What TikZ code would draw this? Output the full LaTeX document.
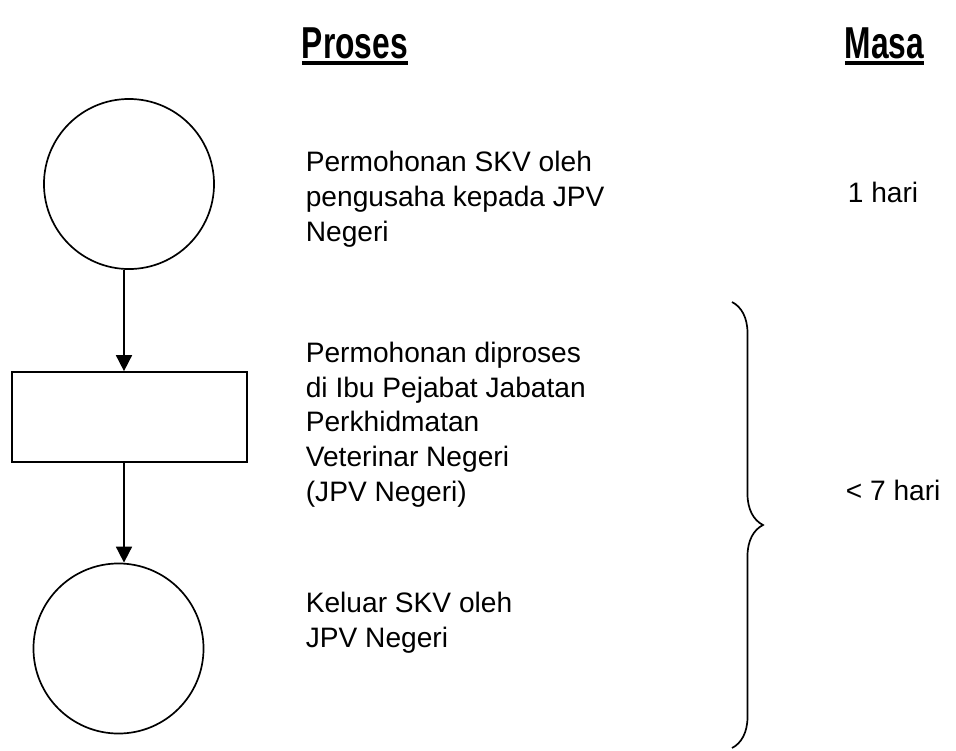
\documentclass[tikz,border=0pt]{standalone}
\usepackage{fontspec}
\setmainfont{Liberation Sans}
\usepackage{graphicx}
\usepackage{tikz}
\usetikzlibrary{shapes,arrows.meta,decorations.pathreplacing}
\tikzstyle{block} = [draw, rectangle, line width=1.2pt, minimum width=5.875cm, minimum height=2.25cm]
\tikzstyle{state} = [draw, circle, line width=1.2pt, minimum size=4.25cm, inner sep=0pt]
\tikzstyle{invis} = [draw=none, inner sep=0pt, anchor=base west, align=left, font=\fontsize{20}{24.6}\selectfont]
\tikzstyle{head} = [draw=none, inner sep=0pt, anchor=base west, font=\fontsize{31.8}{36}\selectfont\bfseries]
\newcommand{\headul}[1]{\scalebox{0.71}[1]{\setbox0=\hbox{#1}\rlap{\rule[-5pt]{\wd0}{2.9pt}}\box0}}

\begin{document}
\begin{tikzpicture}[x=0.025cm, y=-0.025cm, -{Triangle[length=0.4cm, width=0.4cm]}, line width=1.2pt]

\useasboundingbox (0,0) rectangle (956,751);

\node[head] (proses) at (301,58) {\headul{Proses}};
\node[head] (masa) at (844,58) {\headul{Masa}};

\node[state] (c1) at (129,184) {};
\node[block] (box) at (129.5,417) {};
\node[state] (c2) at (118.5,648.5) {};
\coordinate (ax) at (124,0);

\path
(c1.south -| ax) edge [] node {} (box.north -| ax)
(box.south -| ax) edge [] node {} (c2.north -| ax);

\node[invis] (t1) at (305,241) {Permohonan SKV oleh\\pengusaha kepada JPV\\Negeri};
\node[invis] (t2) at (305,501) {Permohonan diproses\\di Ibu Pejabat Jabatan\\Perkhidmatan\\Veterinar Negeri\\(JPV Negeri)};
\node[invis] (t3) at (305,647) {Keluar SKV oleh\\JPV Negeri};

\node[invis] (m1) at (847,202) {1 hari};
\node[invis] (m2) at (845,500) {< 7 hari};

\coordinate (bt) at (732,302);
\coordinate (bb) at (732,748);
\draw[-, decorate, decoration={brace, amplitude=0.775cm}] (bt) -- (bb);

\end{tikzpicture}
\end{document}
